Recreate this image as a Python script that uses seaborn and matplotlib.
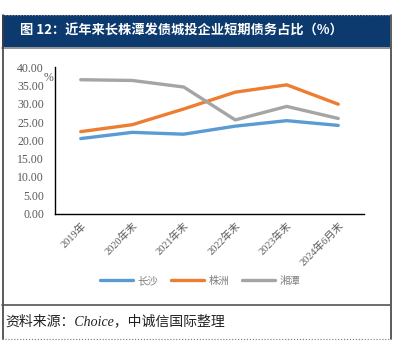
import pandas as pd
import matplotlib.pyplot as plt
import seaborn as sns
from matplotlib.lines import Line2D
from matplotlib.patches import Rectangle

# data
periods = ['2019年', '2020年末', '2021年末', '2022年末', '2023年末', '2024年6月末']
changsha = [20.5, 22.2, 21.7, 23.9, 25.4, 24.1]
zhuzhou = [22.4, 24.3, 28.6, 33.2, 35.2, 29.9]
xiangtan = [36.6, 36.4, 34.6, 25.6, 29.3, 26.0]
cities = ['长沙', '株洲', '湘潭']
colors = ['#5B9BD5', '#ED7D31', '#A5A5A5']

df = pd.DataFrame({
    'period': periods * 3,
    'value': changsha + zhuzhou + xiangtan,
    'city': [c for c in cities for _ in periods],
})

sns.set_style('white')
plt.rcParams['font.family'] = ['Liberation Serif', 'Noto Sans CJK SC', 'DejaVu Sans']

W, H = 403, 352
fig = plt.figure(figsize=(W / 100, H / 100), dpi=100)


def fx(x):
    return x / W


def fy(y):
    return 1 - y / H


ax = fig.add_axes([fx(55), fy(213.5), fx(364) - fx(55), fy(67.3) - fy(213.5)])
sns.lineplot(data=df, x='period', y='value', hue='city', palette=colors,
             linewidth=2.4, ax=ax, legend=False, sort=False)
ax.set_xlim(-0.5, len(periods) - 0.5)
ax.set_ylim(0, 40)
ax.set_yticks(range(0, 41, 5))
ax.set_yticklabels([f'{v:.2f}' for v in range(0, 41, 5)], fontsize=8.5, color='#595959')
ax.set_xticks(range(len(periods)))
ax.set_xticklabels(periods, rotation=45, ha='right', rotation_mode='anchor',
                   fontsize=7.5, color='#595959')
ax.set_xticks([i - 0.5 for i in range(len(periods) + 1)], minor=True)
ax.tick_params(axis='x', which='major', length=0, pad=5)
ax.tick_params(axis='x', which='minor', direction='in', length=3, width=1, color='black')
ax.tick_params(axis='y', length=0, pad=8)
ax.set_xlabel('')
ax.set_ylabel('')
for s in ['top', 'right']:
    ax.spines[s].set_visible(False)
for s in ['left', 'bottom']:
    ax.spines[s].set_color('black')
    ax.spines[s].set_linewidth(1.0)
ax.grid(False)

fig.text(fx(48), fy(78), '%', fontsize=8.5, color='#595959', ha='center', va='center')

# legend
handles = [Line2D([0], [0], color=c, lw=2.4) for c in colors]
fig.legend(handles, cities, loc='center', bbox_to_anchor=(fx(200), fy(281)),
           ncol=3, frameon=False, handlelength=3.2,
           columnspacing=1.2, handletextpad=0.4,
           labelcolor='#7F7F7F', prop={'family': ['Noto Sans CJK SC'], 'size': 7.5})

# title bar
fig.patches.append(Rectangle((fx(2), fy(46.5)), fx(390) - fx(2), fy(15) - fy(46.5),
                             transform=fig.transFigure, facecolor='#0D3A6E',
                             edgecolor='none', zorder=0))
fig.text(fx(20), fy(31), '图 12：近年来长株潭发债城投企业短期债务占比（%）',
         color='white', fontsize=9.5, fontweight='bold', va='center', ha='left',
         family=['Noto Sans CJK SC', 'DejaVu Sans'])

# frame lines
fig.lines.append(Line2D([fx(2), fx(390)], [fy(47.5)] * 2, transform=fig.transFigure,
                        color='#808080', lw=1.2))
fig.lines.append(Line2D([fx(2), fx(390)], [fy(15)] * 2, transform=fig.transFigure,
                        color='#999999', lw=0.8, ls=':'))
fig.lines.append(Line2D([fx(2.5)] * 2, [fy(15), fy(339)], transform=fig.transFigure,
                        color='#404040', lw=1.2))
fig.lines.append(Line2D([fx(390.5)] * 2, [fy(15), fy(339)], transform=fig.transFigure,
                        color='#404040', lw=1.2))
fig.lines.append(Line2D([fx(2), fx(390)], [fy(305)] * 2, transform=fig.transFigure,
                        color='#555555', lw=1.2))
fig.lines.append(Line2D([fx(2), fx(390)], [fy(339)] * 2, transform=fig.transFigure,
                        color='#777777', lw=0.8, ls=':'))

fig.text(fx(5), fy(321), '资料来源：Choice，中诚信国际整理', fontsize=10,
         color='#222222', style='italic', va='center', ha='left')

fig.savefig('out.png', dpi=100)
